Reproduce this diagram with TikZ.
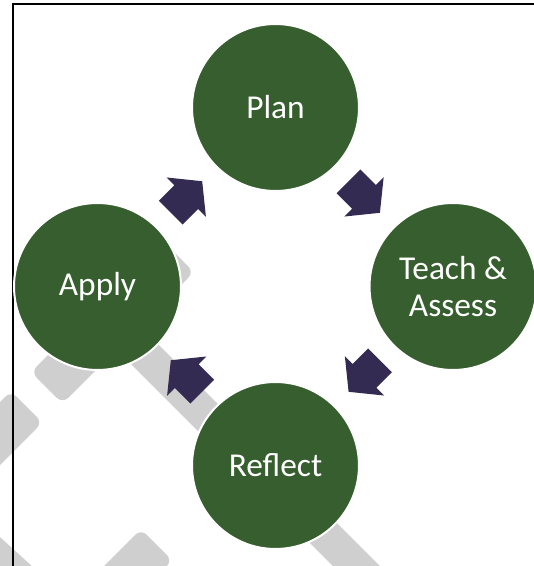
\documentclass[tikz,border=0pt]{standalone}
\usepackage{fontspec}
\setmainfont{Carlito}
\usepackage{tikz}
\usetikzlibrary{shapes.arrows,calc}

\definecolor{stagegreen}{RGB}{55,94,46}
\definecolor{arrownavy}{RGB}{52,43,82}
\definecolor{stripegray}{RGB}{207,207,207}

\begin{document}
\begin{tikzpicture}[
    x=0.02cm, y=-0.02cm,
    every node/.style={font=\fontsize{19pt}{21.6pt}\selectfont},
    stage/.style={circle, fill=stagegreen, draw=white, line width=0.04cm, minimum size=3.34cm, inner sep=0pt, text=white, align=center},
    cyclearrow/.style={single arrow, fill=arrownavy, minimum height=0.89cm, inner xsep=0pt, inner ysep=0.33cm, single arrow head extend=0.22cm, single arrow tip angle=102, outer sep=0pt, anchor=tip},
    stripe/.style={fill=stripegray, rounded corners=0.16cm},
]
    \useasboundingbox (0,0) rectangle (534,566);

    % Background stripes
    \begin{scope}
        \clip (0,0) rectangle (534,566);
        \fill[stripe] (178.25,256.25) -- (194,272) -- (62.5,403.5) -- (31,372) -- (162.5,240.5) -- cycle;
        \fill[stripe] (87.25,296.75) -- (99,285) -- (407,593) -- (383.5,616.5) -- (75.5,308.5) -- cycle;
        \fill[stripe] (26.75,406.75) -- (42.5,422.5) -- (-67.5,532.5) -- (-99,501) -- (11,391) -- cycle;
        \fill[stripe] (-71.75,471.75) -- (190,710) -- (166.5,733.5) -- (-83.5,483.5) -- (-60,460) -- cycle;
        \fill[stripe] (156.75,544.75) -- (172.5,560.5) -- (66.5,666.5) -- (35,635) -- (141,529) -- cycle;
    \end{scope}

    % Frame
    \draw[line width=0.04cm] (12.7,566) -- (12.7,4) -- (534,4);

    % Stages
    \node[stage] (plan) at (275.5,107.5) {Plan};
    \node[stage] (teach) at (453,286.5) {Teach \&\\Assess};
    \node[stage] (reflect) at (275.5,465.5) {Reflect};
    \node[stage] (apply) at (97.5,286.5) {Apply};

    % Arrows between stages
    \node[cyclearrow, rotate=-45] (plan-teach) at ($(plan)!0.5!(teach)!0.445cm!(teach)$) {};
    \node[cyclearrow, rotate=-135] (teach-reflect) at ($(teach)!0.5!(reflect)!0.445cm!(reflect)$) {};
    \node[cyclearrow, rotate=135] (reflect-apply) at ($(reflect)!0.5!(apply)!0.445cm!(apply)$) {};
    \node[cyclearrow, rotate=45] (apply-plan) at ($(apply)!0.5!(plan)!0.445cm!(plan)$) {};
\end{tikzpicture}
\end{document}
